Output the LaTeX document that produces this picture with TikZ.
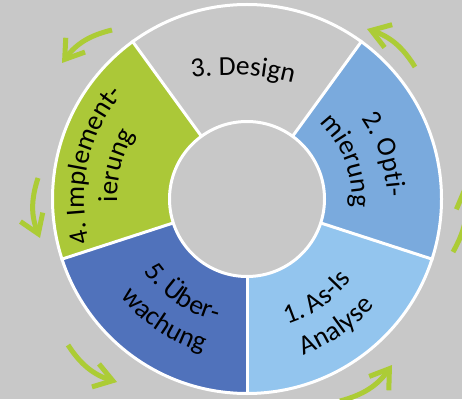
\documentclass[tikz,border=0pt]{standalone}
\usepackage{fontspec}
\setmainfont{Carlito}
\usetikzlibrary{decorations.text,arrows.meta}
\definecolor{bggray}{RGB}{200,200,200}
\definecolor{segone}{RGB}{147,197,238}
\definecolor{segtwo}{RGB}{122,170,221}
\definecolor{segfour}{RGB}{171,200,56}
\definecolor{segfive}{RGB}{80,114,187}
\definecolor{arrgreen}{RGB}{172,204,54}
\newcommand\lblfont{\fontsize{27.5}{33}\selectfont}
\begin{document}
\begin{tikzpicture}[x=1pt,y=1pt,
  seglabel/.style={decorate,decoration={text along path,text align=center,text={#1}}},
  spoke/.style={draw=white,line width=3pt},
  cyc/.style={draw=arrgreen,line width=5pt,-{Straight Barb[length=18pt,width=24pt,sharp]}}]
\useasboundingbox[fill=bggray] (0,0) rectangle (462,399);
\coordinate (C) at (247,200);
% segments
\fill[segone]  (C) -- ++(-90:195pt) arc[start angle=-90,end angle=-18,radius=195pt] -- cycle;
\fill[segtwo]  (C) -- ++(-18:195pt) arc[start angle=-18,end angle=54,radius=195pt] -- cycle;
\fill[bggray]  (C) -- ++(54:195pt) arc[start angle=54,end angle=126,radius=195pt] -- cycle;
\fill[segfour] (C) -- ++(126:195pt) arc[start angle=126,end angle=198,radius=195pt] -- cycle;
\fill[segfive] (C) -- ++(198:195pt) arc[start angle=198,end angle=270,radius=195pt] -- cycle;
\foreach \a in {-90,-18,54,126,198}
  \draw[spoke] (C) ++(\a:75pt) -- ++(\a:121pt);
\draw[spoke] (C) circle[radius=194.5pt];
\fill[bggray] (C) circle[radius=77.5pt];
\draw[spoke] (C) circle[radius=77.5pt];
% labels
\path[seglabel={|\lblfont|3. Design}] (230,80) ++(103:244pt) arc[start angle=103,end angle=71,radius=244pt];
\path[seglabel={|\lblfont|2. Opti-}] (C) ++(48:140pt) arc[start angle=48,end angle=-12,radius=140pt];
\path[seglabel={|\lblfont|mierung}] (C) ++(51:105pt) arc[start angle=51,end angle=-9,radius=105pt];
\path[seglabel={|\lblfont|4. Implement-}] (C) ++(202.5:163pt) arc[start angle=202.5,end angle=132.5,radius=163pt];
\path[seglabel={|\lblfont|ierung}] (C) ++(195.6:130pt) arc[start angle=195.6,end angle=135.6,radius=130pt];
\path[seglabel={|\lblfont|5. Über-}] (C) ++(205.5:126pt) arc[start angle=205.5,end angle=265.5,radius=126pt];
\path[seglabel={|\lblfont|wachung}] (C) ++(205.8:159pt) arc[start angle=205.8,end angle=265.8,radius=159pt];
\path[seglabel={|\lblfont|1. As-Is}] (C) ++(275:132pt) arc[start angle=275,end angle=335,radius=132pt];
\path[seglabel={|\lblfont|Analyse}] (C) ++(275:166pt) arc[start angle=275,end angle=335,radius=166pt];
% cycle arrows
\coordinate (a1s) at (112,369); \coordinate (a1e) at (62,336);
\coordinate (a2s) at (38,221);  \coordinate (a2e) at (40,161);
\coordinate (a3s) at (68,54);   \coordinate (a3e) at (117,17);
\coordinate (a4s) at (340,-2);  \coordinate (a4e) at (392,34);
\coordinate (a5s) at (453,147); \coordinate (a5e) at (464,214);
\coordinate (a6s) at (415,332); \coordinate (a6e) at (367,370);
\draw[cyc] (a1s) to[bend right=20] (a1e);
\draw[cyc] (a2s) to[bend right=20] (a2e);
\draw[cyc] (a3s) to[bend right=20] (a3e);
\draw[cyc] (a4s) to[bend right=20] (a4e);
\draw[cyc] (a5s) to[bend right=20] (a5e);
\draw[cyc] (a6s) to[bend right=20] (a6e);
\end{tikzpicture}
\end{document}
